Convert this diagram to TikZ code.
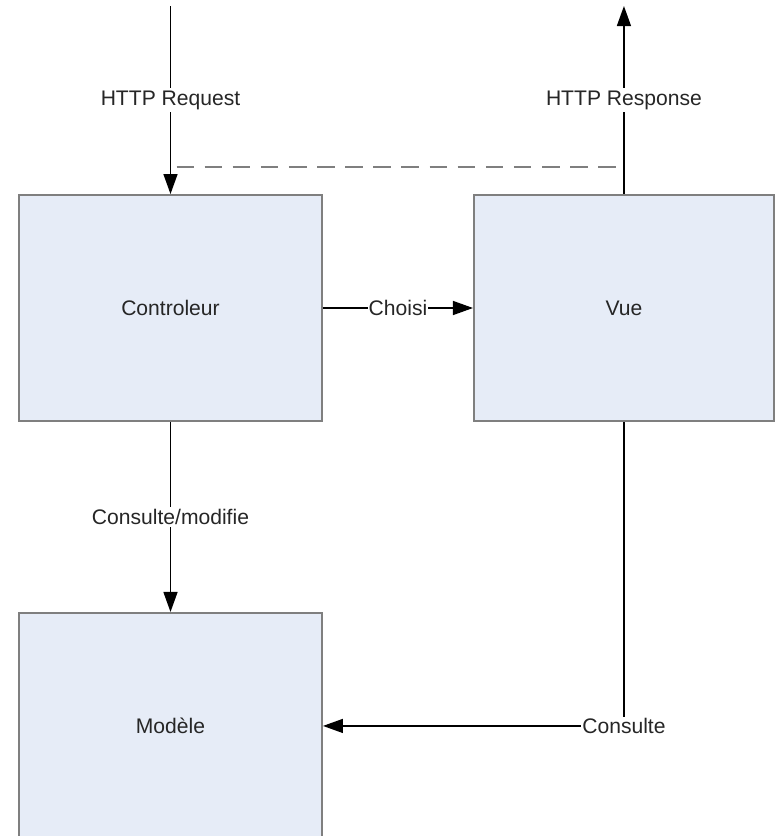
\documentclass[tikz,border=0pt]{standalone}
\usepackage{fontspec}
\setmainfont{Liberation Sans}
\usepackage{xcolor}
\usetikzlibrary{arrows.meta,positioning,calc}

\definecolor{boxfill}{HTML}{E6ECF7}
\definecolor{boxline}{HTML}{7F7F7F}
\definecolor{txt}{HTML}{262626}

\begin{document}
\begin{tikzpicture}[
  every node/.style={font=\fontsize{12}{14}\selectfont, text=txt},
  comp/.style={draw=boxline, line width=1.1pt, fill=boxfill,
    minimum width=6.06cm, minimum height=4.52cm, inner sep=0pt},
  lbl/.style={fill=white, inner sep=1.5pt},
  >={Triangle[length=0.4cm, width=0.28cm]}, line width=0.8pt
]
\useasboundingbox (0,0) rectangle (15.5,-16.72);
\clip (0,0) rectangle (15.5,-16.72);

\node[comp] (ctrl) at (3.41,-6.16) {Controleur};
\node[comp, minimum width=6.0cm, right=3.0cm of ctrl] (vue) {Vue};
\node[comp, below=3.8cm of ctrl] (modele) {Modèle};

\coordinate (req) at ([yshift=3.76cm]ctrl.north);
\coordinate (resp) at ([yshift=3.76cm]vue.north);
\coordinate (dashl) at ([xshift=0.12cm, yshift=0.54cm]ctrl.north);
\coordinate (dashr) at ([xshift=-0.08cm, yshift=0.54cm]vue.north);

\draw[->] (req) -- node[lbl] {HTTP Request} (ctrl.north);
\draw[->] (vue.north) -- node[lbl] {HTTP Response} (resp);
\draw[dashed, draw=boxline, dash pattern=on 10pt off 6pt] (dashl) -- (dashr);
\draw[->] (ctrl) -- node[lbl, inner sep=0.5pt] {Choisi} (vue);
\draw[->] (ctrl) -- node[lbl] {Consulte/modifie} (modele);
\draw[->] (vue.south) |- node[lbl, inner sep=0.5pt] {Consulte} (modele.east);
\end{tikzpicture}
\end{document}
